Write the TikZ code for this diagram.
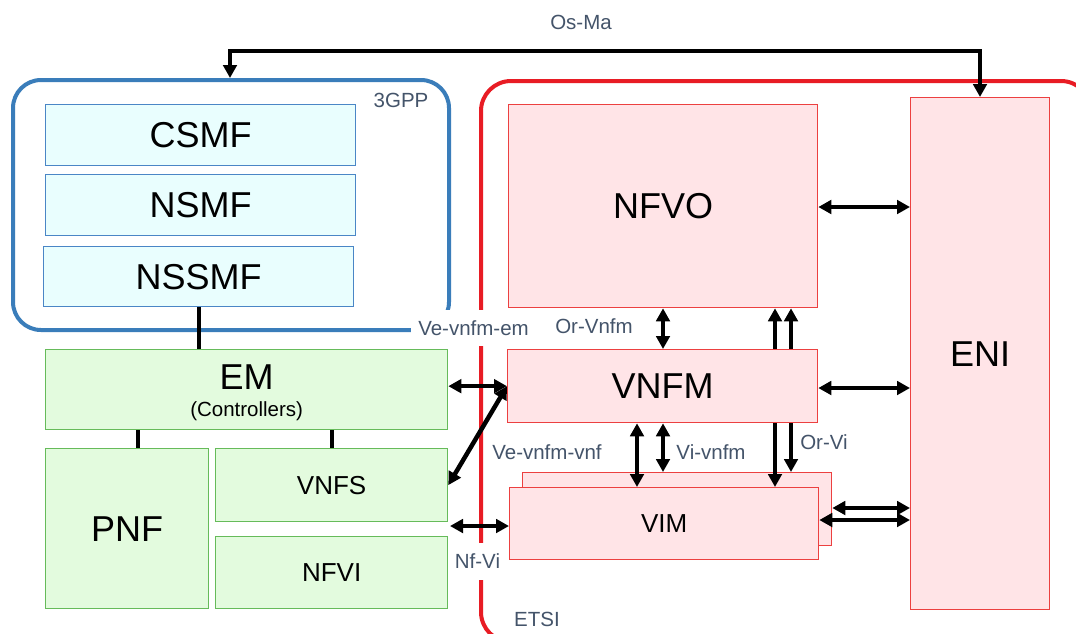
\documentclass[tikz,border=0pt]{standalone}
\usepackage{fontspec}
\setmainfont{Liberation Sans}
\usetikzlibrary{arrows.meta,calc}

\definecolor{gppblue}{RGB}{58,125,186}
\definecolor{cyanfill}{RGB}{233,254,254}
\definecolor{cyanline}{RGB}{74,134,198}
\definecolor{greenfill}{RGB}{227,251,222}
\definecolor{greenline}{RGB}{102,187,90}
\definecolor{pinkfill}{RGB}{255,228,231}
\definecolor{pinkline}{RGB}{236,64,64}
\definecolor{etsired}{RGB}{232,28,36}
\definecolor{labelgray}{RGB}{68,84,106}

\newcommand\fsz[1]{\fontsize{#1}{#1}\selectfont}

\begin{document}
\begin{tikzpicture}[x=1pt,y=-1pt,
  >={Triangle[length=13pt,width=13.5pt]},
  box/.style={draw, line width=1.3pt, inner sep=0pt, anchor=north west, align=center},
  cyanbox/.style={box, draw=cyanline, fill=cyanfill, font=\fsz{36}},
  greenbox/.style={box, draw=greenline, fill=greenfill},
  pinkbox/.style={box, draw=pinkline, fill=pinkfill},
  frame/.style={draw, line width=4pt, anchor=north west, inner sep=0pt},
  lbl/.style={text=labelgray, font=\fsz{20.5}, inner sep=0pt},
  conn/.style={line width=4.5pt, black},
  link/.style={line width=4.5pt, black}
]
\useasboundingbox (0,0) rectangle (1076,633);
\fill[white] (0,0) rectangle (1076,633);

% domain frames
\node[frame, draw=gppblue, rounded corners=28pt,
      minimum width=436pt, minimum height=250pt] (gpp) at (11,78) {};
\node[frame, draw=etsired, rounded corners=30pt,
      minimum width=610pt, minimum height=561pt] (etsi) at (479,79) {};

% frame and interface labels
\node[lbl] (gpplbl) at (401,100) {3GPP};
\node[lbl] (etsilbl) at (537,619) {ETSI};
\node[lbl] (osmalbl) at (581,22) {Os-Ma};
\node[lbl, fill=white, inner xsep=7pt, minimum height=36pt] (vemlbl) at (473.5,328) {Ve-vnfm-em};
\node[lbl, fill=white, inner xsep=4pt, minimum height=37pt] (nfvilbl) at (477.5,561) {Nf-Vi};
\node[lbl] (orvnfmlbl) at (594,326) {Or-Vnfm};
\node[lbl] (vevnflbl) at (547,452) {Ve-vnfm-vnf};
\node[lbl] (vivnfmlbl) at (711,452) {Vi-vnfm};
\node[lbl] (orvilbl) at (824,442) {Or-Vi};

% 3GPP management functions
\node[cyanbox, minimum width=310pt, minimum height=61pt] (csmf) at (45,104) {CSMF};
\node[cyanbox, minimum width=310pt, minimum height=61pt] (nsmf) at (45,174) {NSMF};
\node[cyanbox, minimum width=310pt, minimum height=60pt] (nssmf) at (43,246) {NSSMF};

% element management and network functions
\node[greenbox, minimum width=402pt, minimum height=80pt] (em) at (45,349) {};
\node[font=\fsz{36}, inner sep=0pt] (emtitle) at ($(em.north)+(0,28)$) {EM};
\node[font=\fsz{20.5}, inner sep=0pt] (emsub) at ($(em.north)+(0,62)$) {(Controllers)};
\node[greenbox, font=\fsz{36}, minimum width=163pt, minimum height=160pt] (pnf) at (45,448) {PNF};
\node[greenbox, font=\fsz{26}, minimum width=232pt, minimum height=73pt] (vnfs) at (215,448) {VNFS};
\node[greenbox, font=\fsz{26}, minimum width=232pt, minimum height=72pt] (nfvi) at (215,536) {NFVI};

% ETSI MANO blocks
\node[pinkbox, font=\fsz{36}, minimum width=309pt, minimum height=203pt] (nfvo) at (508,104) {NFVO};
\node[pinkbox, font=\fsz{36}, minimum width=310pt, minimum height=73pt] (vnfm) at (507,349) {VNFM};
\node[pinkbox, minimum width=309pt, minimum height=73pt] (vimb) at (522,472) {};
\node[pinkbox, font=\fsz{26}, minimum width=309pt, minimum height=72pt] (vimf) at (509,487) {VIM};
\node[pinkbox, font=\fsz{36}, minimum width=139pt, minimum height=512pt] (eni) at (910,97) {ENI};

% reference columns and rows for connectors
\coordinate (osmaL) at (230,51);
\coordinate (osmaR) at (980,51);
\coordinate (xA) at (663,0);
\coordinate (xV) at (637,0);
\coordinate (xB) at (775,0);
\coordinate (xC) at (791,0);
\coordinate (xEM) at (199,0);
\coordinate (xPNF) at (138,0);
\coordinate (xVNFS) at (332,0);
\coordinate (rNFVO) at (0,207);
\coordinate (rVNFM) at (0,388);
\coordinate (rVIMb) at (0,508);
\coordinate (rVIMf) at (0,520);
\coordinate (nfgap) at (450,526);

% plain links inside the 3GPP side
\draw[link] (nssmf.south -| xEM) -- (em.north -| xEM);
\draw[link] (em.south -| xPNF) -- (pnf.north -| xPNF);
\draw[link] (em.south -| xVNFS) -- (vnfs.north -| xVNFS);

% Os-Ma
\draw[conn,<->] (gpp.north -| osmaL) -- (osmaL) -- (osmaR) -- (eni.north -| osmaR);

% EM / VNF side to MANO
\draw[conn,<->] (em.east |- vnfm.west) -- (vnfm.west);
\draw[conn,<->] (vnfs.east) -- (vnfm.west);
\draw[conn,<->] (nfgap) -- (vimf.west |- nfgap);

% NFVO - VNFM - VIM
\draw[conn,<->] (nfvo.south -| xA) -- (vnfm.north -| xA);
\draw[conn,<-] (nfvo.south -| xB) -- (vnfm.north -| xB);
\draw[conn,<-] (nfvo.south -| xC) -- (vnfm.north -| xC);
\draw[conn,->] (vnfm.south -| xB) -- (vimf.north -| xB);
\draw[conn,->] (vnfm.south -| xC) -- (vimb.north -| xC);
\draw[conn,<->] (vnfm.south -| xV) -- (vimf.north -| xV);
\draw[conn,<->] (vnfm.south -| xA) -- (vimb.north -| xA);

% links to ENI
\draw[conn,<->] (nfvo.east |- rNFVO) -- (eni.west |- rNFVO);
\draw[conn,<->] (vnfm.east |- rVNFM) -- (eni.west |- rVNFM);
\draw[conn,<->] (vimb.east |- rVIMb) -- (eni.west |- rVIMb);
\draw[conn,<->] (vimf.east |- rVIMf) -- (eni.west |- rVIMf);
\end{tikzpicture}
\end{document}
